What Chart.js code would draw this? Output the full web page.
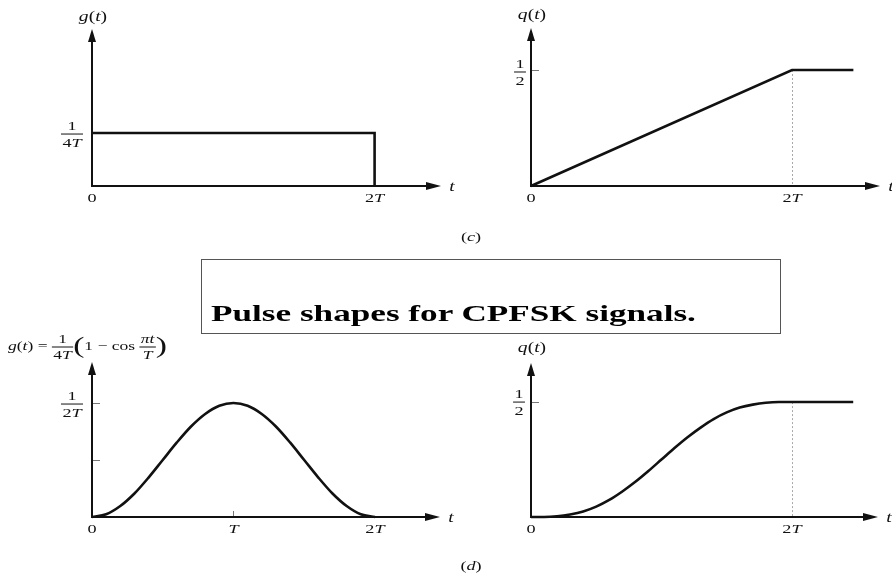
<!DOCTYPE html>
<html>
<head>
<meta charset="utf-8">
<title>Pulse shapes for CPFSK signals</title>
<script src="https://cdn.jsdelivr.net/npm/chart.js"></script>
<style>
  body { margin: 0; background: #fff; }
  #page { position: relative; width: 892px; height: 576px; overflow: hidden; }
  #page canvas { position: absolute; left: 0; top: 0; }
  #caption { position: absolute; left: 201px; top: 259px; width: 578px; height: 73px; border: 1px solid #555; }
  #captionText { position: absolute; left: 211px; top: 300px; line-height: 24px; white-space: nowrap;
                 font: bold 24px "Liberation Serif", "Times New Roman", Times, serif; transform-origin: left center; }
</style>
</head>
<body>
<div id="page">
  <canvas id="rectG" width="892" height="576"></canvas>
  <canvas id="rectQ" width="892" height="576"></canvas>
  <canvas id="cosG" width="892" height="576"></canvas>
  <canvas id="cosQ" width="892" height="576"></canvas>
  <div id="caption"></div>
  <span id="captionText">Pulse shapes for CPFSK signals.</span>
</div>

<script>
// time in units of T
const rectT = [0, 2, 2];
const rectG = [0.25, 0.25, 0];          // 1/(4T) pulse over [0, 2T]
const rampT = [0, 2, 2.47];
const rampQ = [0, 0.5, 0.5];

const cosT = [0, 0.1, 0.2, 0.3, 0.4, 0.5, 0.6, 0.7, 0.8, 0.9, 1.0,
              1.1, 1.2, 1.3, 1.4, 1.5, 1.6, 1.7, 1.8, 1.9, 2.0];
const cosG = [0, 0.012, 0.048, 0.103, 0.173, 0.25, 0.327, 0.397, 0.452, 0.488, 0.5,
              0.488, 0.452, 0.397, 0.327, 0.25, 0.173, 0.103, 0.048, 0.012, 0];
const cosQT = [0, 0.1, 0.2, 0.3, 0.4, 0.5, 0.6, 0.7, 0.8, 0.9, 1.0,
               1.1, 1.2, 1.3, 1.4, 1.5, 1.6, 1.7, 1.8, 1.9, 2.0, 2.47];
const cosQ = [0, 0.000, 0.003, 0.011, 0.024, 0.045, 0.074, 0.111, 0.153, 0.200, 0.250,
              0.300, 0.347, 0.389, 0.426, 0.455, 0.476, 0.489, 0.497, 0.500, 0.500, 0.500];

const SERIF = '"Liberation Serif", "Times New Roman", Times, serif';
const STRETCH = 1.4;
const INK = '#111';

const pts = (xs, ys) => xs.map((x, i) => ({ x: x, y: ys[i] }));

// --- small math-text helpers: runs of upright/italic text and stacked fractions
function fontOf(r, size) { return (r.i ? 'italic ' : '') + (r.size || size) + 'px ' + SERIF; }
function runsWidth(ctx, runs, size) {
  let w = 0;
  for (const r of runs) { ctx.font = fontOf(r, size); w += ctx.measureText(r.s).width; }
  return w;
}
function drawRuns(ctx, runs, x, y, size) {
  for (const r of runs) {
    ctx.font = fontOf(r, size);
    ctx.fillText(r.s, x, y);
    x += ctx.measureText(r.s).width;
  }
}
function pieceWidth(ctx, p, size) {
  if (p.num) return Math.max(runsWidth(ctx, p.num, size), runsWidth(ctx, p.den, size)) + 2;
  return runsWidth(ctx, p.runs, size);
}
function drawExpr(ctx, pieces, x, y, size, align) {
  const w = pieces.reduce((s, p) => s + pieceWidth(ctx, p, size), 0);
  ctx.save();
  ctx.translate(x, y);
  ctx.scale(STRETCH, 1);
  ctx.fillStyle = INK;
  ctx.textBaseline = 'middle';
  ctx.textAlign = 'left';
  let cx = align === 'left' ? 0 : -w / 2;
  for (const p of pieces) {
    const pw = pieceWidth(ctx, p, size);
    if (p.num) {
      const nw = runsWidth(ctx, p.num, size), dw = runsWidth(ctx, p.den, size);
      drawRuns(ctx, p.num, cx + (pw - nw) / 2, -size * 0.6, size);
      drawRuns(ctx, p.den, cx + (pw - dw) / 2, size * 0.72, size);
      ctx.fillRect(cx, -0.5, pw, 1);
    } else {
      drawRuns(ctx, p.runs, cx, 0, size);
    }
    cx += pw;
  }
  ctx.restore();
}

const txt = (s, i) => ({ runs: [{ s: s, i: i }] });
const fLabel = (name) => [{ runs: [{ s: name, i: 1 }, { s: '(' }, { s: 't', i: 1 }, { s: ')' }] }];
const half = [{ num: [{ s: '1' }], den: [{ s: '2' }] }];
const quarterT = [{ num: [{ s: '1' }], den: [{ s: '4' }, { s: 'T', i: 1 }] }];
const halfT = [{ num: [{ s: '1' }], den: [{ s: '2' }, { s: 'T', i: 1 }] }];
const twoT = [{ runs: [{ s: '2' }, { s: 'T', i: 1 }] }];
const raisedCosLabel = [
  { runs: [{ s: 'g', i: 1 }, { s: '(' }, { s: 't', i: 1 }, { s: ') = ' }] },
  { num: [{ s: '1' }], den: [{ s: '4' }, { s: 'T', i: 1 }] },
  { runs: [{ s: '(', size: 24 }, { s: '1 − cos ' }] },
  { num: [{ s: 'π', i: 1 }, { s: 't', i: 1 }], den: [{ s: 'T', i: 1 }] },
  { runs: [{ s: ')', size: 24 }] }
];

// --- axes with arrow heads, ticks and labels
function arrowHead(ctx, x, y, dir) {
  ctx.beginPath();
  if (dir === 'up') { ctx.moveTo(x, y); ctx.lineTo(x - 4, y + 13); ctx.lineTo(x + 4, y + 13); }
  else { ctx.moveTo(x, y); ctx.lineTo(x - 15, y - 4); ctx.lineTo(x - 15, y + 4); }
  ctx.closePath();
  ctx.fill();
}

function axesPlugin(opts) {
  return {
    id: 'axesArrows',
    beforeDatasetsDraw(chart) {
      const ctx = chart.ctx, a = chart.chartArea;
      const sx = chart.scales.x, sy = chart.scales.y;
      const x0 = sx.getPixelForValue(0), y0 = sy.getPixelForValue(0);
      ctx.save();
      // dotted guide at t = 2T
      if (opts.guide) {
        ctx.strokeStyle = '#a8a8a8';
        ctx.lineWidth = 1;
        ctx.setLineDash([2, 2]);
        ctx.beginPath();
        const gx = Math.round(sx.getPixelForValue(2)) + 0.5;
        ctx.moveTo(gx, sy.getPixelForValue(opts.guide));
        ctx.lineTo(gx, y0);
        ctx.stroke();
        ctx.setLineDash([]);
      }
      // short tick marks
      ctx.strokeStyle = '#777';
      ctx.lineWidth = 1;
      for (const v of opts.yTicks || []) {
        const py = Math.round(sy.getPixelForValue(v)) + 0.5;
        ctx.beginPath(); ctx.moveTo(x0, py); ctx.lineTo(x0 + 8, py); ctx.stroke();
      }
      for (const v of opts.xTicks || []) {
        const px = Math.round(sx.getPixelForValue(v)) + 0.5;
        ctx.beginPath(); ctx.moveTo(px, y0); ctx.lineTo(px, y0 - 6); ctx.stroke();
      }
      // axes
      ctx.strokeStyle = INK;
      ctx.fillStyle = INK;
      ctx.lineWidth = 2;
      ctx.beginPath();
      ctx.moveTo(x0, a.top + 8); ctx.lineTo(x0, y0); ctx.lineTo(a.right - 8, y0);
      ctx.stroke();
      arrowHead(ctx, x0, a.top, 'up');
      arrowHead(ctx, a.right, y0, 'right');
      ctx.restore();
    },
    afterDraw(chart) {
      const ctx = chart.ctx, a = chart.chartArea;
      const sx = chart.scales.x, sy = chart.scales.y;
      const x0 = sx.getPixelForValue(0), y0 = sy.getPixelForValue(0);
      drawExpr(ctx, opts.title, opts.titleAlign === 'left' ? opts.titleX : x0 + 1, a.top - opts.titleGap,
               opts.titleSize || 14, opts.titleAlign);
      for (const lab of opts.yLabels) {
        drawExpr(ctx, lab.expr, x0 - lab.dx, sy.getPixelForValue(lab.v) + (lab.dy || 0), 13);
      }
      for (const lab of opts.xLabels) {
        drawExpr(ctx, lab.expr, sx.getPixelForValue(lab.v), y0 + 13, 13);
      }
      drawExpr(ctx, [txt('t', 1)], a.right + 11, y0 + 1, 14);
    }
  };
}

function line(data, smooth) {
  return {
    data: data, showLine: true, pointRadius: 0, borderColor: INK, borderWidth: 2.6,
    cubicInterpolationMode: smooth ? 'monotone' : 'default', clip: false
  };
}

function panel(id, pad, xMax, yMax, datasets, opts) {
  return new Chart(document.getElementById(id), {
    type: 'scatter',
    data: { datasets: datasets },
    options: {
      responsive: false, animation: false, events: [],
      layout: { padding: pad },
      plugins: { legend: { display: false }, tooltip: { enabled: false } },
      scales: {
        x: { type: 'linear', display: false, min: 0, max: xMax },
        y: { type: 'linear', display: false, min: 0, max: yMax }
      }
    },
    plugins: [axesPlugin(opts)]
  });
}

const zeroLabel = { v: 0, expr: [txt('0')] };

panel('rectG', { left: 92, right: 451, top: 29, bottom: 390 }, 2.47, 0.741,
  [line(pts(rectT, rectG))],
  { title: fLabel('g'), titleGap: 12,
    yLabels: [{ v: 0.25, expr: quarterT, dx: 20, dy: 1 }],
    xLabels: [zeroLabel, { v: 2, expr: twoT }] });

panel('rectQ', { left: 531, right: 12, top: 28, bottom: 390 }, 2.674, 0.681,
  [line(pts(rampT, rampQ))],
  { title: fLabel('q'), titleGap: 13, guide: 0.5, yTicks: [0.5],
    yLabels: [{ v: 0.5, expr: half, dx: 11, dy: 2 }],
    xLabels: [zeroLabel, { v: 2, expr: twoT }] });

panel('cosG', { left: 92, right: 452, top: 362, bottom: 59 }, 2.46, 0.68,
  [line(pts(cosT, cosG), true)],
  { title: raisedCosLabel, titleAlign: 'left', titleX: 8, titleGap: 15, titleSize: 12.5,
    yTicks: [0.25, 0.5], xTicks: [1],
    yLabels: [{ v: 0.5, expr: halfT, dx: 20, dy: 1 }],
    xLabels: [zeroLabel, { v: 1, expr: [txt('T', 1)] }, { v: 2, expr: twoT }] });

panel('cosQ', { left: 531, right: 14, top: 363, bottom: 59 }, 2.66, 0.67,
  [line(pts(cosQT, cosQ), true)],
  { title: fLabel('q'), titleGap: 15, guide: 0.5, yTicks: [0.5],
    yLabels: [{ v: 0.5, expr: half, dx: 12, dy: 0 }],
    xLabels: [zeroLabel, { v: 2, expr: twoT }] });

// sub-figure tags
(function () {
  const ctx = document.getElementById('cosQ').getContext('2d');
  drawExpr(ctx, [{ runs: [{ s: '(' }, { s: 'c', i: 1 }, { s: ')' }] }], 471, 238, 13);
  drawExpr(ctx, [{ runs: [{ s: '(' }, { s: 'd', i: 1 }, { s: ')' }] }], 471, 567, 13);
})();

// caption text is stretched to fill its line like the slide heading
const cap = document.getElementById('captionText');
cap.style.transform = 'scaleX(' + (485 / cap.offsetWidth) + ')';
</script>
</body>
</html>
